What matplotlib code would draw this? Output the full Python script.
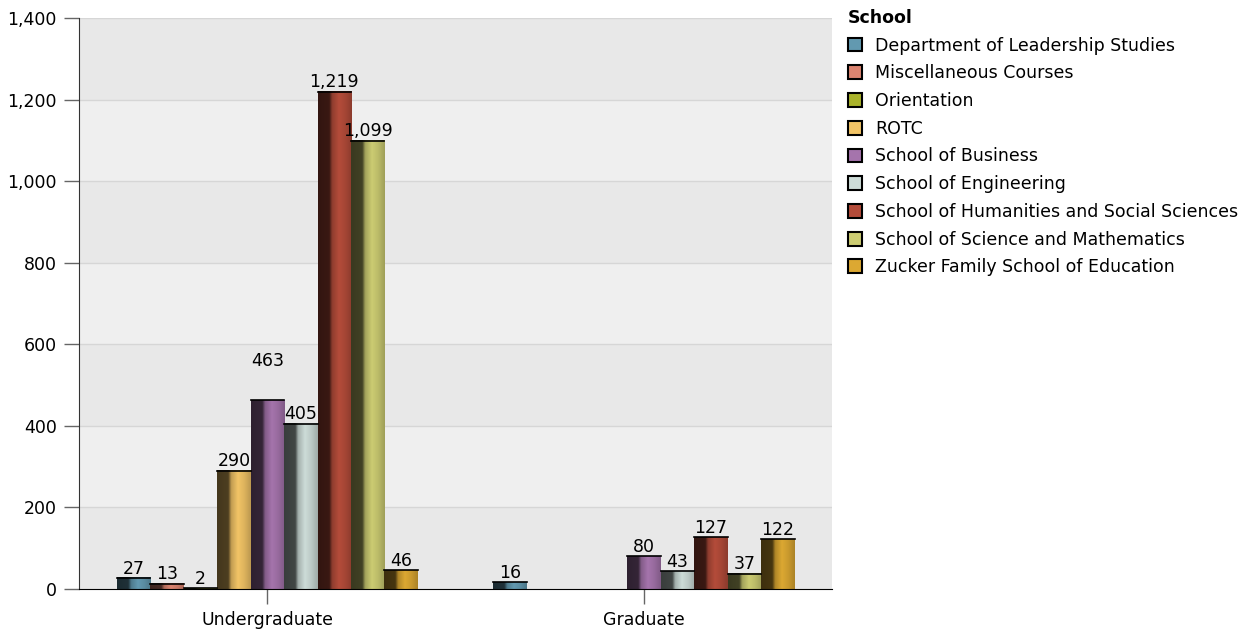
import matplotlib.pyplot as plt
import numpy as np
from matplotlib.colors import to_rgb
from matplotlib.patches import Patch

categories = ["Undergraduate", "Graduate"]
schools = ["Department of Leadership Studies", "Miscellaneous Courses", "Orientation",
           "ROTC", "School of Business", "School of Engineering",
           "School of Humanities and Social Sciences", "School of Science and Mathematics",
           "Zucker Family School of Education"]
undergrad = [27, 13, 2, 290, 463, 405, 1219, 1099, 46]
graduate = [16, None, None, None, 80, 43, 127, 37, 122]
colors = ["#6299b0", "#dc8470", "#a9b22a", "#f2c466", "#a574ac",
          "#cddcd8", "#b44c3a", "#cccc72", "#dca832"]

plt.rcParams["font.family"] = ["DejaVu Sans"]
fig = plt.figure(figsize=(12.38, 6.29), dpi=100)
ax = fig.add_axes([0.0638, 0.0636, 0.6085, 0.9078])

# alternating bands + grid
for i, y0 in enumerate(range(0, 1400, 200)):
    ax.axhspan(y0, y0 + 200, color="#e8e8e8" if i % 2 == 0 else "#efefef", zorder=0, lw=0)
for y in range(200, 1401, 200):
    ax.axhline(y, color="#d6d6d6", lw=1, zorder=0.5)

# gradient profile across a bar (dark left side, light highlight, slightly darker right edge)
pos = np.array([0.0, 0.33, 0.42, 0.62, 0.80, 1.0])
fac = np.array([0.28, 0.32, 0.80, 1.0, 0.92, 0.78])
xs = np.linspace(0, 1, 64)
prof = np.interp(xs, pos, fac)

def shaded(c):
    rgb = np.array(to_rgb(c))
    out = []
    for f in prof:
        if f <= 1:
            out.append(rgb * f)
        else:
            out.append(rgb + (1 - rgb) * (f - 1))
    return np.clip(np.array(out), 0, 1)[None, :, :]

n = len(schools)
group_w = 0.80
bw = group_w / n
series = [undergrad, graduate]
for gi, vals in enumerate(series):
    for si in range(n):
        v = vals[si]
        if v is None:
            continue
        x0 = gi - group_w / 2 + si * bw
        ax.imshow(shaded(colors[si]), extent=(x0, x0 + bw, 0, v), aspect="auto",
                  interpolation="bilinear", zorder=2)
        ax.plot([x0, x0 + bw], [v, v], color="black", lw=1.2, zorder=3)
        off = 75 if (gi == 0 and si == 4) else 1
        ax.text(x0 + bw / 2, v + off, f"{v:,}", ha="center", va="bottom",
                fontsize=12.5, zorder=4)

ax.set_xlim(-0.5, 1.5)
ax.set_ylim(0, 1400)
ax.set_yticks(range(0, 1401, 200))
ax.set_yticklabels([f"{t:,}" for t in range(0, 1401, 200)])
ax.set_xticks([0, 1])
ax.set_xticklabels(categories)
ax.tick_params(axis="both", labelsize=12.5, length=11, width=1, color="#666666")
ax.tick_params(axis="y", pad=5)
ax.tick_params(axis="x", pad=5)
for s in ["top", "right"]:
    ax.spines[s].set_visible(False)
ax.spines["left"].set_color("#333333")
ax.spines["bottom"].set_color("black")

handles = [Patch(facecolor=c, edgecolor="black", lw=1.5) for c in colors]
leg = fig.legend(handles, schools, title="School", loc="upper left",
                 bbox_to_anchor=(0.679, 0.997), frameon=False, fontsize=12.5,
                 title_fontproperties={"weight": "bold", "size": 12.5},
                 handlelength=0.85, handleheight=0.85, handletextpad=0.75,
                 labelspacing=0.56, alignment="left", borderaxespad=0.0)

fig.savefig("out.png", dpi=100)
